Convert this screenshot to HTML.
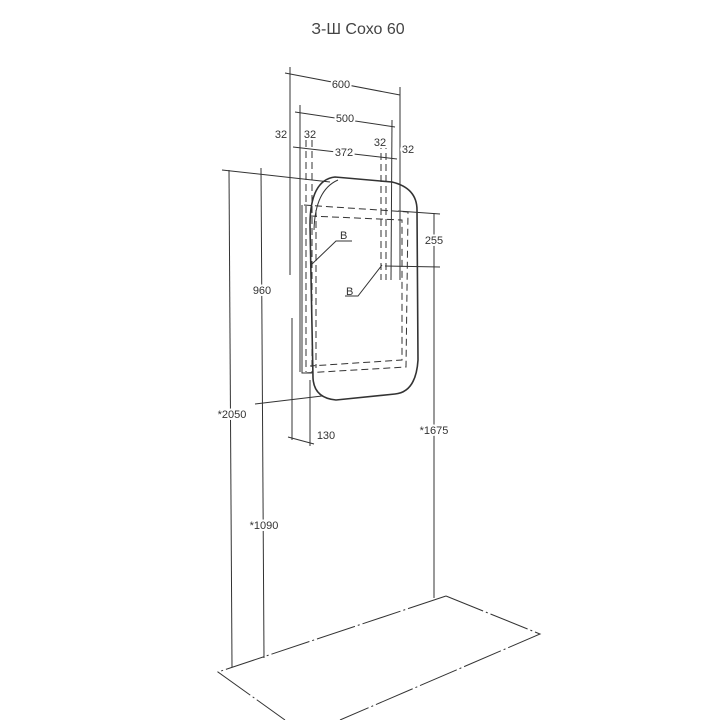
<!DOCTYPE html>
<html><head><meta charset="utf-8"><style>
html,body{margin:0;padding:0;background:#fff;}
svg{display:block;font-family:"Liberation Sans",sans-serif;}
text{fill:#333;font-size:11px;stroke:#fff;stroke-width:4px;paint-order:stroke;}
</style></head><body>
<svg width="720" height="720" viewBox="0 0 720 720" xmlns="http://www.w3.org/2000/svg">
<text x="358" y="34" text-anchor="middle" style="font-size:16px;fill:#444;stroke:none">З-Ш Сохо 60</text>
<g stroke="#333" stroke-width="1" fill="none">
<path d="M446,596 L218,672 L285,720 M446,596 L540,634 L340,720" stroke-dasharray="40,3,2,3"/>
<line x1="229" y1="170" x2="232" y2="667"/>
<line x1="261" y1="168" x2="264" y2="658"/>
<line x1="222" y1="170" x2="330" y2="182"/>
<line x1="255" y1="404" x2="322" y2="396"/>
<line x1="434" y1="213" x2="434" y2="598"/>
<line x1="398" y1="211" x2="440" y2="214"/>
<line x1="385" y1="266" x2="440" y2="267"/>
<line x1="285" y1="73" x2="400" y2="95"/>
<line x1="290" y1="67" x2="290" y2="275"/>
<line x1="400" y1="87" x2="400" y2="280"/>
<line x1="295" y1="112" x2="395" y2="127"/>
<line x1="300" y1="105" x2="300" y2="372"/>
<line x1="392" y1="120" x2="391" y2="280"/>
<line x1="293" y1="147" x2="397" y2="159"/>
<line x1="292" y1="318" x2="292" y2="440"/>
<line x1="310" y1="380" x2="310" y2="446"/>
<line x1="288" y1="437" x2="314" y2="444"/>
<path d="M302,205 L302,373 L312,373"/>
<path d="M335,177 L392,182 Q417,188 417,210 L418,360 Q416,392 395,394 L336,400 Q314,398 313,378 L310,225 Q310,180 335,177 Z" stroke-width="1.6"/>
<path d="M314,230 Q315,190 338,180" />
<g stroke-dasharray="7,4">
<path d="M304,205 L408,212 L406,367 L304,373"/>
<path d="M316,210 L316,368"/>
<path d="M310,216 L402,220 L402,360 L310,366"/>
<line x1="306" y1="140" x2="306" y2="372"/>
<line x1="312" y1="140" x2="312" y2="372"/>
<line x1="381" y1="142" x2="381" y2="280"/>
<line x1="386" y1="142" x2="386" y2="280"/>
</g>
<path d="M311,265 L336,241 L352,241"/>
<path d="M382,265 L358,296 L345,296"/>
</g>
<text x="340" y="239" style="stroke:none">B</text>
<text x="346" y="295" style="stroke:none">B</text>
<text x="341" y="88" text-anchor="middle">600</text>
<text x="345" y="122" text-anchor="middle">500</text>
<text x="344" y="156" text-anchor="middle">372</text>
<text x="281" y="138" text-anchor="middle">32</text>
<text x="310" y="138" text-anchor="middle">32</text>
<text x="380" y="146" text-anchor="middle">32</text>
<text x="408" y="153" text-anchor="middle">32</text>
<text x="262" y="294" text-anchor="middle">960</text>
<text x="232" y="418" text-anchor="middle">*2050</text>
<text x="264" y="529" text-anchor="middle">*1090</text>
<text x="326" y="439" text-anchor="middle">130</text>
<text x="434" y="244" text-anchor="middle">255</text>
<text x="434" y="434" text-anchor="middle">*1675</text>
</svg>
</body></html>
